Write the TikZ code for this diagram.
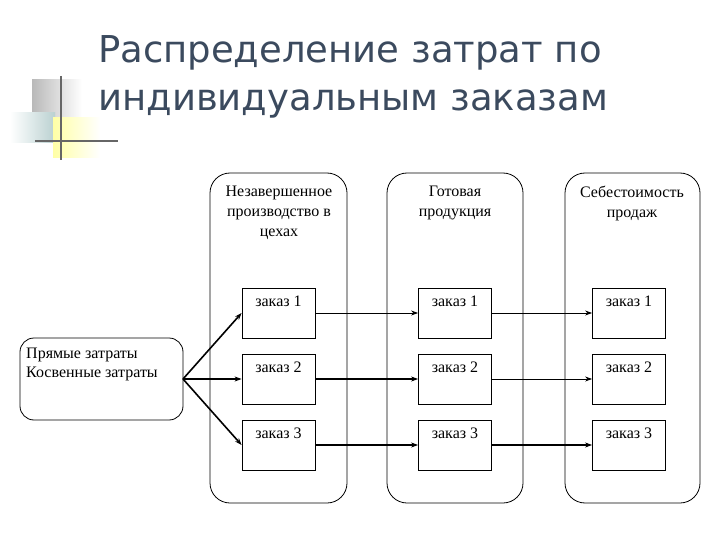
\documentclass[tikz,border=0pt]{standalone}
\usepackage{fontspec}
\setmainfont{Liberation Serif}
\newfontfamily\titlefont{DejaVu Sans}
\usetikzlibrary{arrows.meta}
\definecolor{titlecol}{HTML}{3B4A5E}
\begin{document}
\begin{tikzpicture}[x=1pt,y=-1pt,
  col/.style={draw,rounded corners=20pt,line width=0.8pt},
  ordbox/.style={draw,line width=0.8pt,minimum width=73pt,minimum height=50pt,inner sep=0pt},
  ordtext/.style={font=\fontsize{16}{18}\selectfont,anchor=north,inner sep=0pt},
  hdr/.style={align=center,font=\fontsize{16}{20}\selectfont,anchor=north,inner sep=0pt},
  arr/.style={-{Stealth[length=7pt,width=5pt]},line width=0.8pt},
  thk/.style={-{Stealth[length=7pt,width=5pt]},line width=1.6pt}]
\useasboundingbox (0,0) rectangle (720,540);
% logo
\shade[left color=gray!55,right color=white] (32,80) rectangle (82,117);
\shade[left color=white,right color=cyan!20!gray!45] (10,113) rectangle (55,143);
\shade[left color=yellow!35,right color=white] (53,118) rectangle (100,158);
\draw[gray!80!black,line width=1.5pt] (61,76) -- (61,160);
\draw[gray!80!black,line width=1.5pt] (35,141) -- (118,141);
% title
\node[anchor=west,text=titlecol,font=\titlefont\fontsize{37}{48}\selectfont,align=left,inner sep=0pt] (title) at (98,77)
  {Распределение затрат по\\индивидуальным заказам};
% columns
\draw[col] (210,173) rectangle (347,503);
\draw[col] (387,173) rectangle (523,503);
\draw[col] (565,173) rectangle (700,503);
\node[hdr] (h1) at (279,186) {Незавершенное\\производство в\\цехах};
\node[hdr] (h2) at (455,186) {Готовая\\продукция};
\node[hdr] (h3) at (632,186) {Себестоимость\\продаж};
% left box
\draw[line width=0.8pt,rounded corners=14pt] (20,338) rectangle (183,420);
\coordinate (src) at (183,379);
\node[anchor=north west,align=left,inner sep=0pt,font=\fontsize{16}{19}\selectfont] (lt) at (26,348) {Прямые затраты\\Косвенные затраты};
% order boxes
\foreach \c/\x in {a/278.5,b/455,c/629}{
  \foreach \r/\y in {1/313,2/379,3/445}{
    \node[ordbox] (\c\r) at (\x,\y) {};
    \node[ordtext] at ([yshift=-8pt]\c\r.north) {заказ \r};
  }
}
% arrows
\draw[thk] (src) -- (a1.west);
\draw[thk] (src) -- (a2.west);
\draw[thk] (src) -- (a3.west);
\draw[arr] (a1.east) -- (b1.west);
\draw[arr,line width=1.2pt] (a2.east) -- (b2.west);
\draw[thk] (a3.east) -- (b3.west);
\draw[arr] (b1.east) -- (c1.west);
\draw[arr] (b2.east) -- (c2.west);
\draw[thk] (b3.east) -- (c3.west);
\end{tikzpicture}
\end{document}
